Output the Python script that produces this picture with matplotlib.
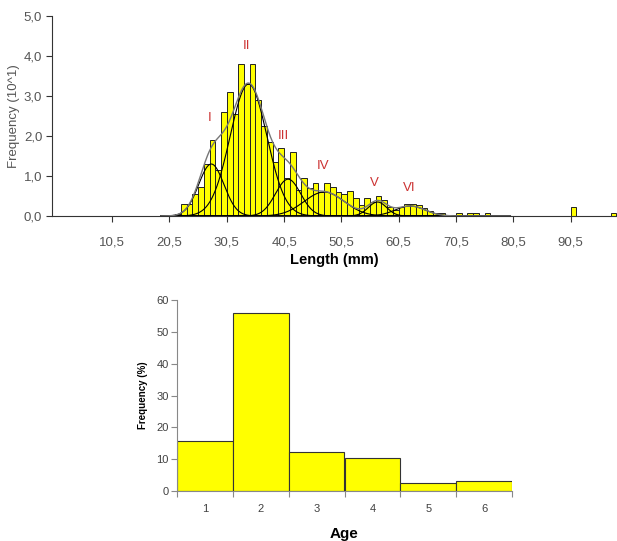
import numpy as np
import matplotlib
matplotlib.use("Agg")
import matplotlib.pyplot as plt

plt.rcParams['font.family'] = ['Liberation Sans', 'DejaVu Sans']

# length-frequency histogram (frequency in 10^1)
lengths = [22, 23, 24, 25, 26, 27, 28, 29, 30, 31, 32, 33, 34, 35, 36, 37, 38, 39, 40,
           41, 42, 43, 44, 45, 46, 47, 48, 49, 50, 51, 52, 53, 54, 55, 56, 57, 58, 59,
           60, 61, 62, 63, 64, 65, 66, 67, 68, 71, 73, 74, 76, 91, 98]
freqs = [0.05, 0.3, 0.3, 0.55, 0.72, 1.3, 1.9, 1.15, 2.6, 3.1, 2.55, 3.8, 3.3, 3.8, 2.9,
         2.25, 1.85, 1.35, 1.7, 0.95, 1.6, 0.65, 0.95, 0.7, 0.82, 0.6, 0.82, 0.72, 0.6,
         0.55, 0.62, 0.45, 0.27, 0.45, 0.35, 0.5, 0.4, 0.22, 0.15, 0.22, 0.3, 0.3, 0.27,
         0.2, 0.12, 0.08, 0.07, 0.08, 0.08, 0.08, 0.08, 0.23, 0.08]

# fitted age groups (normal components)
groups = ['I', 'II', 'III', 'IV', 'V', 'VI']
means = [27.8, 34.3, 41.2, 47.5, 56.8, 62.5]
sds = [2.2, 3.2, 2.2, 3.5, 1.6, 2.6]
peaks = [1.3, 3.3, 0.92, 0.6, 0.35, 0.25]
label_x = [27.5, 34.0, 40.3, 47.3, 56.3, 62.4]
label_y = [2.45, 4.25, 2.0, 1.25, 0.83, 0.7]

# age composition
ages = [1, 2, 3, 4, 5, 6]
age_pct = [15.6, 55.8, 12.4, 10.4, 2.4, 3.2]

fig = plt.figure(figsize=(6.17, 5.41), dpi=100)

# ---- top chart
ax1 = fig.add_axes([52/617, 1-216/541, 1-52/617, 200/541])
ax1.bar(lengths, freqs, width=1.0, color='#ffff00', edgecolor='#222222', linewidth=0.7, zorder=2)

xs = np.linspace(19, 80, 600)
total = np.zeros_like(xs)
for m, s, p in zip(means, sds, peaks):
    y = p*np.exp(-0.5*((xs-m)/s)**2)
    total += y
    ax1.plot(xs, y, color='black', lw=0.8, zorder=3)
ax1.plot(xs, total, color='#777777', lw=1.0, zorder=4)

for g, lx, ly in zip(groups, label_x, label_y):
    ax1.text(lx, ly, g, color='#cc3333', fontsize=9.5, ha='center', va='center')

ax1.set_xlim(0, 98.6)
ax1.set_ylim(0, 5)
ax1.set_xticks([10.5, 20.5, 30.5, 40.5, 50.5, 60.5, 70.5, 80.5, 90.5])
ax1.set_xticklabels(['10,5', '20,5', '30,5', '40,5', '50,5', '60,5', '70,5', '80,5', '90,5'])
ax1.set_yticks([0, 1, 2, 3, 4, 5])
ax1.set_yticklabels(['0,0', '1,0', '2,0', '3,0', '4,0', '5,0'])
ax1.tick_params(axis='x', length=4, pad=11, labelsize=9.5, colors='#333333', labelcolor='#555555')
ax1.tick_params(axis='y', length=4, pad=3, labelsize=9.5, colors='#333333', labelcolor='#555555')
for sp in ['top', 'right']:
    ax1.spines[sp].set_visible(False)
for sp in ['left', 'bottom']:
    ax1.spines[sp].set_color('#333333')
ax1.set_ylabel('Frequency (10^1)', fontsize=9.5, color='#555555', labelpad=3)
ax1.set_xlabel('Length (mm)', fontsize=10.5, fontweight='bold', labelpad=3)

# ---- bottom chart
ax2 = fig.add_axes([177/617, 50/541, (512-177)/617, 191/541])
ax2.bar(ages, age_pct, width=1.0, color='#ffff00', edgecolor='#333333', linewidth=0.8)
ax2.set_xlim(0.5, 6.5)
ax2.set_ylim(0, 60)
ax2.set_yticks([0, 10, 20, 30, 40, 50, 60])
ax2.set_xticks([0.5, 1.5, 2.5, 3.5, 4.5, 5.5, 6.5])
ax2.set_xticklabels([])
ax2.set_xticks(ages, minor=True)
ax2.set_xticklabels([str(a) for a in ages], minor=True)
ax2.tick_params(axis='x', which='major', length=4, colors='#888888')
ax2.tick_params(axis='x', which='minor', length=0, pad=9, labelsize=8, labelcolor='#404040')
ax2.tick_params(axis='y', length=4, pad=2, labelsize=8, colors='#888888', labelcolor='#404040')
for sp in ['top', 'right']:
    ax2.spines[sp].set_visible(False)
for sp in ['left', 'bottom']:
    ax2.spines[sp].set_color('#888888')
ax2.set_ylabel('Frequency (%)', fontsize=7, fontweight='bold', labelpad=6)
ax2.set_xlabel('Age', fontsize=11, fontweight='bold', labelpad=10)

fig.savefig('out.png', dpi=100)
